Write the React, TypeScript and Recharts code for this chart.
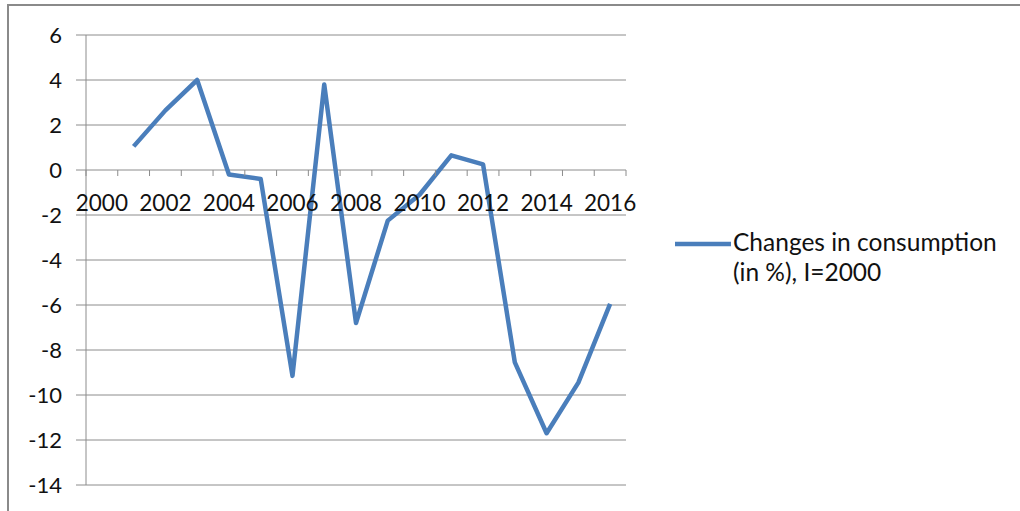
import React from "react";
import {
  LineChart,
  Line,
  XAxis,
  YAxis,
  CartesianGrid,
} from "recharts";

// Annual change in consumption, index base 2000
const years: string[] = [
  "2000", "2001", "2002", "2003", "2004", "2005", "2006", "2007", "2008",
  "2009", "2010", "2011", "2012", "2013", "2014", "2015", "2016",
];
const changes: (number | null)[] = [
  null, 1.05, 2.65, 4.0, -0.2, -0.4, -9.15, 3.8, -6.8,
  -2.25, -1.1, 0.65, 0.25, -8.55, -11.7, -9.45, -5.95,
];
const yTicks: number[] = [6, 4, 2, 0, -2, -4, -6, -8, -10, -12, -14];
const legendLines: string[] = ["Changes in consumption", "(in %), I=2000"];

const data = years.map((year, i) => ({ year, value: changes[i] }));

const W = 1020;
const H = 511;
const M_TOP = 35;
const M_BOTTOM = 25;
const M_RIGHT = 394;
const Y_AXIS_W = 86;
const X_AXIS_H = 1;
const Y_MIN = -14;
const Y_MAX = 6;
const PLOT_H = H - M_TOP - M_BOTTOM - X_AXIS_H;
const PLOT_W = W - Y_AXIS_W - M_RIGHT;
const ZERO_Y = M_TOP + (PLOT_H * (Y_MAX - 0)) / (Y_MAX - Y_MIN);
const BAND = PLOT_W / years.length;

const FONT = "Lato, 'Open Sans', sans-serif";
const GRID = "#8c8c8c";
const BLUE = "#4A7EBB";
const TEXT = "#111111";

// Category axis drawn across the zero line, with tick marks between categories
const ZeroAxisTick = (props: any) => {
  const { x, payload, index } = props;
  const left = x - BAND / 2;
  const right = x + BAND / 2;
  const isLast = index === years.length - 1;
  const showLabel = index % 2 === 0;
  return (
    <g>
      <line x1={left} y1={ZERO_Y} x2={left} y2={ZERO_Y + 6} stroke={GRID} strokeWidth={1} />
      {isLast && (
        <line x1={right} y1={ZERO_Y} x2={right} y2={ZERO_Y + 6} stroke={GRID} strokeWidth={1} />
      )}
      {showLabel && (
        <text
          x={x}
          y={ZERO_Y + 35}
          textAnchor="middle"
          dominantBaseline="middle"
          fontFamily={FONT}
          fontSize={22.5}
          fill={TEXT}
        >
          {payload.value}
        </text>
      )}
    </g>
  );
};

export default function App() {
  return (
    <div
      style={{
        position: "absolute",
        left: 0,
        top: 0,
        width: W,
        height: H,
        overflow: "hidden",
        background: "#ffffff",
      }}
    >
      <div
        style={{
          position: "absolute",
          left: 7,
          top: 4,
          width: 1100,
          height: 600,
          border: "2px solid #8a8a8a",
          boxSizing: "border-box",
        }}
      />
      <div style={{ position: "absolute", left: 0, top: 0 }}>
        <LineChart
          width={W}
          height={H}
          data={data}
          margin={{ top: M_TOP, right: M_RIGHT, bottom: M_BOTTOM, left: 0 }}
        >
          <CartesianGrid vertical={false} stroke={GRID} strokeWidth={1} />
          <XAxis
            dataKey="year"
            height={X_AXIS_H}
            interval={0}
            padding={{ left: BAND / 2, right: BAND / 2 }}
            axisLine={false}
            tickLine={false}
            tick={<ZeroAxisTick />}
          />
          <YAxis
            width={Y_AXIS_W}
            domain={[Y_MIN, Y_MAX]}
            ticks={yTicks}
            interval={0}
            axisLine={{ stroke: GRID, strokeWidth: 1 }}
            tickLine={{ stroke: GRID, strokeWidth: 1 }}
            tickSize={10}
            tickMargin={14}
            tick={{ fontFamily: FONT, fontSize: 22, fill: TEXT }}
          />
          <Line
            type="linear"
            dataKey="value"
            name={legendLines.join(" ")}
            stroke={BLUE}
            strokeWidth={4.5}
            strokeLinejoin="round"
            dot={false}
            activeDot={false}
            connectNulls={false}
            isAnimationActive={false}
          />
        </LineChart>
      </div>
      {/* Series key, to the right of the plot */}
      <div
        style={{
          position: "absolute",
          left: 674,
          top: 227,
          display: "flex",
          alignItems: "flex-start",
          fontFamily: FONT,
        }}
      >
        <svg width={59} height={32} style={{ flex: "none" }}>
          <line x1={1} y1={17} x2={57} y2={17} stroke={BLUE} strokeWidth={4.5} />
        </svg>
        <div style={{ fontSize: 24.5, lineHeight: "30px", color: TEXT, whiteSpace: "nowrap" }}>
          {legendLines[0]}
          <br />
          {legendLines[1]}
        </div>
      </div>
    </div>
  );
}
